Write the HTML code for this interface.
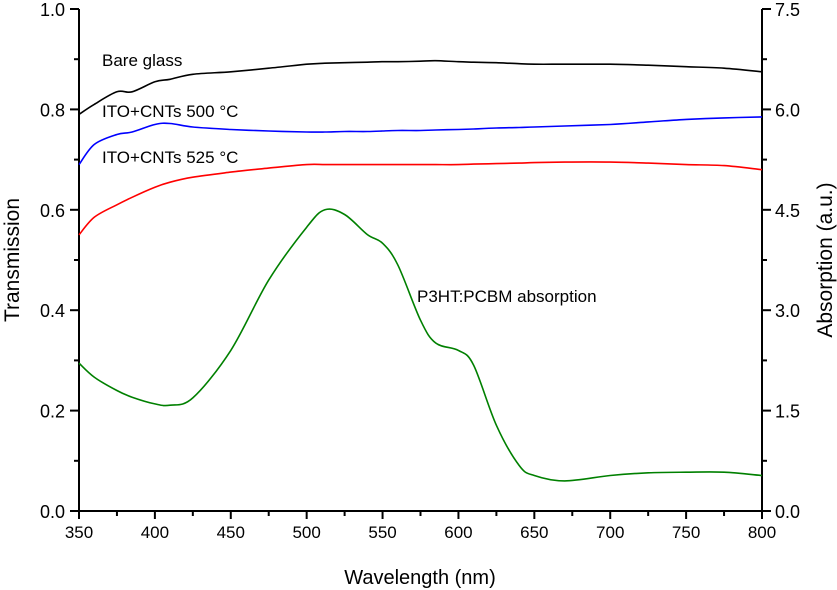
<!DOCTYPE html>
<html><head><meta charset="utf-8"><style>
body{margin:0;background:#fff}
svg{display:block;font-family:"Liberation Sans",Arial,sans-serif}
</style></head><body>
<svg id="chart" width="837" height="590" viewBox="0 0 837 590"></svg>
<script>
const wavelengths=[350,360,375,385,400,410,425,450,475,500,512,525,540,550,560,575,585,600,610,625,640,650,670,700,725,750,775,800];
const bareGlass=[0.79,0.81,0.835,0.835,0.855,0.86,0.87,0.875,0.882,0.89,0.892,0.893,0.894,0.895,0.895,0.896,0.897,0.895,0.894,0.893,0.891,0.89,0.89,0.89,0.888,0.885,0.882,0.875];
const ito500=[0.69,0.73,0.75,0.755,0.77,0.772,0.765,0.76,0.757,0.755,0.755,0.756,0.756,0.757,0.758,0.758,0.759,0.76,0.761,0.763,0.764,0.765,0.767,0.77,0.775,0.78,0.783,0.785];
const ito525=[0.55,0.585,0.61,0.625,0.645,0.655,0.665,0.675,0.683,0.69,0.69,0.69,0.69,0.69,0.69,0.69,0.69,0.69,0.691,0.692,0.693,0.694,0.695,0.695,0.693,0.69,0.688,0.68];
const absorption=[2.21,2.0,1.8,1.7,1.6,1.58,1.69,2.4,3.45,4.24,4.5,4.43,4.13,4.0,3.68,2.85,2.51,2.4,2.18,1.28,0.68,0.53,0.45,0.53,0.57,0.58,0.58,0.53];
const xTicks=[350,400,450,500,550,600,650,700,750,800];
const yLeftTicks=[0.0,0.2,0.4,0.6,0.8,1.0];
const yRightTicks=[0.0,1.5,3.0,4.5,6.0,7.5];

const NS="http://www.w3.org/2000/svg";
const svg=document.getElementById('chart');
const X0=79,X1=762,Y0=511,Y1=9;
const xs=v=>X0+(v-350)/(800-350)*(X1-X0);
const yl=v=>Y0-v/1.0*(Y0-Y1);
const yr=v=>Y0-v/7.5*(Y0-Y1);
function mk(tag,attrs,parent){const e=document.createElementNS(NS,tag);for(const k in attrs)e.setAttribute(k,attrs[k]);(parent||svg).appendChild(e);return e;}

const axes=mk('g',{stroke:'#000','stroke-width':2,fill:'none'});


mk('line',{x1:X0,y1:Y1,x2:X0,y2:Y0+1},axes);
mk('line',{x1:X1,y1:Y1,x2:X1,y2:Y0+1},axes);
mk('line',{x1:X0-1,y1:Y0,x2:X1+1,y2:Y0},axes);

function txt(s,x,y,anchor,size,name){const t=mk('text',{x:x,y:y,'text-anchor':anchor,'font-size':size,fill:'#000'});t.textContent=s;return t;}

xTicks.forEach((v,i)=>{
  mk('line',{x1:xs(v),y1:Y0,x2:xs(v),y2:Y0+8},axes);
  if(i<xTicks.length-1) mk('line',{x1:xs(v+25),y1:Y0,x2:xs(v+25),y2:Y0+5},axes);
  txt(String(v),xs(v),Y0+27,'middle',17,'x-tick-label');
});
yLeftTicks.forEach((v,i)=>{
  mk('line',{x1:X0-9,y1:yl(v),x2:X0,y2:yl(v)},axes);
  if(i<yLeftTicks.length-1) mk('line',{x1:X0-5,y1:yl(v+0.1),x2:X0,y2:yl(v+0.1)},axes);
  txt(v.toFixed(1),X0-14,yl(v)+7,'end',18,'y-left-tick-label');
});
yRightTicks.forEach((v,i)=>{
  mk('line',{x1:X1,y1:yr(v),x2:X1+9,y2:yr(v)},axes);
  if(i<yRightTicks.length-1) mk('line',{x1:X1,y1:yr(v+0.75),x2:X1+5,y2:yr(v+0.75)},axes);
  txt(v.toFixed(1),X1+13,yr(v)+7,'start',18,'y-right-tick-label');
});

function series(vals,scale,color,name){
  const P=wavelengths.map((w,i)=>[xs(w),scale(vals[i])]);
  let d='M'+P[0][0].toFixed(1)+','+P[0][1].toFixed(1);
  for(let i=0;i<P.length-1;i++){
    const p0=P[Math.max(0,i-1)],p1=P[i],p2=P[i+1],p3=P[Math.min(P.length-1,i+2)];
    const c1=[p1[0]+(p2[0]-p0[0])/6,p1[1]+(p2[1]-p0[1])/6];
    const c2=[p2[0]-(p3[0]-p1[0])/6,p2[1]-(p3[1]-p1[1])/6];
    d+='C'+c1.map(n=>n.toFixed(1)).join(',')+' '+c2.map(n=>n.toFixed(1)).join(',')+' '+p2.map(n=>n.toFixed(1)).join(',');
  }
  const p=mk('path',{d:d,stroke:color,'stroke-width':1.6,fill:'none','stroke-linejoin':'round'});
  
  
}
series(bareGlass,yl,'#000','bare-glass-line');
series(ito500,yl,'#0000ff','ito-cnts-500-line');
series(ito525,yl,'#ff0000','ito-cnts-525-line');
series(absorption,yr,'#008000','p3ht-pcbm-absorption-line');

txt('Bare glass',102,66,'start',17,'bare-glass-label');
txt('ITO+CNTs 500 °C',102,117,'start',17,'ito-cnts-500-label');
txt('ITO+CNTs 525 °C',102,163,'start',17,'ito-cnts-525-label');
txt('P3HT:PCBM absorption',417,302,'start',17,'absorption-label');
txt('Wavelength (nm)',420,584,'middle',20,'x-axis-title');
const lt=txt('Transmission',0,0,'middle',21,'y-left-axis-title');lt.setAttribute('transform','translate(19,260) rotate(-90)');
const rt=txt('Absorption (a.u.)',0,0,'middle',21,'y-right-axis-title');rt.setAttribute('transform','translate(832,260) rotate(-90)');
</script>
</body></html>
